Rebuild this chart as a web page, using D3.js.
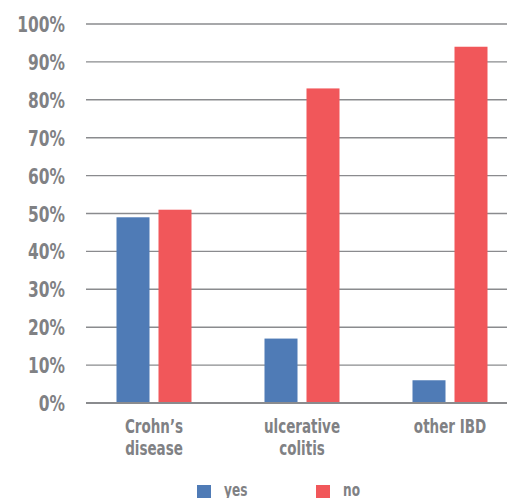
<!DOCTYPE html>
<html>
<head>
<meta charset="utf-8">
<script src="https://cdn.jsdelivr.net/npm/d3@7"></script>
<style>
  html, body { margin: 0; padding: 0; background: #ffffff; }
  svg { display: block; }
  text { font-family: "DejaVu Sans Condensed", "DejaVu Sans", sans-serif; font-weight: bold; fill: #808184; }
</style>
</head>
<body>
<div id="chart"></div>
<script>
// chart data
var categories = [['Crohn\u2019s', 'disease'], ['ulcerative', 'colitis'], ['other IBD']];
var seriesNames = ['yes', 'no'];
var yesValues = [49, 17, 6];
var noValues = [51, 83, 94];
var yTicks = [0, 10, 20, 30, 40, 50, 60, 70, 80, 90, 100];
var colors = ['#4f7bb6', '#f1575a'];

var width = 507, height = 498;
var narrow = 0.78; // squeeze text to look like a condensed face

var svg = d3.select('#chart').append('svg')
    .attr('width', width)
    .attr('height', height);

var y = d3.scaleLinear().domain([0, 100]).range([403, 24]);
var x0 = d3.scaleBand().domain(d3.range(categories.length)).range([80, 524]);
var x1 = d3.scaleBand().domain(seriesNames).range([0, 75]).paddingInner(9 / 42);

// gridlines
svg.append('g').selectAll('line')
    .data(yTicks)
    .enter().append('line')
    .attr('x1', 86).attr('x2', width)
    .attr('y1', function (d) { return y(d); })
    .attr('y2', function (d) { return y(d); })
    .style('stroke', '#8a8b8e')
    .style('stroke-width', 1.4);

// y tick labels
svg.append('g').selectAll('text')
    .data(yTicks)
    .enter().append('text')
    .attr('text-anchor', 'end')
    .attr('transform', function (d) {
        return 'translate(65,' + (y(d) + 8) + ') scale(' + narrow + ',1)';
    })
    .style('font-size', '22px')
    .text(function (d) { return d + '%'; });

// bars
var rows = categories.map(function (c, i) {
    return [{ s: 'yes', v: yesValues[i] }, { s: 'no', v: noValues[i] }];
});
var groups = svg.append('g').selectAll('g')
    .data(rows)
    .enter().append('g')
    .attr('transform', function (d, i) {
        return 'translate(' + (x0(i) + x0.bandwidth() / 2 - 37.5) + ',0)';
    });
groups.selectAll('rect')
    .data(function (d) { return d; })
    .enter().append('rect')
    .attr('x', function (d) { return x1(d.s); })
    .attr('width', x1.bandwidth())
    .attr('y', function (d) { return y(d.v); })
    .attr('height', function (d) { return y(0) - y(d.v); })
    .style('fill', function (d, i) { return colors[i]; });

// zero line on top of the bars
svg.append('line')
    .attr('x1', 86).attr('x2', width)
    .attr('y1', y(0)).attr('y2', y(0))
    .style('stroke', '#8a8b8e')
    .style('stroke-width', 2);

// category labels
var labels = svg.append('g').selectAll('text')
    .data(categories)
    .enter().append('text')
    .attr('text-anchor', 'middle')
    .attr('transform', function (d, i) {
        return 'translate(' + (x0(i) + x0.bandwidth() / 2) + ',433) scale(0.75,1)';
    })
    .style('font-size', '20px');
labels.selectAll('tspan')
    .data(function (d) { return d; })
    .enter().append('tspan')
    .attr('x', 0)
    .attr('y', function (d, i) { return i * 22; })
    .text(function (d) { return d; });

// legend
var legendX = [197, 316];
var legend = svg.append('g').selectAll('g')
    .data(seriesNames)
    .enter().append('g')
    .attr('transform', function (d, i) { return 'translate(' + legendX[i] + ',485)'; });
legend.append('rect')
    .attr('width', 14).attr('height', 14)
    .style('fill', function (d, i) { return colors[i]; });
legend.append('text')
    .attr('transform', 'translate(27,11) scale(0.75,1)')
    .style('font-size', '18px')
    .text(function (d) { return d; });
</script>
</body>
</html>
